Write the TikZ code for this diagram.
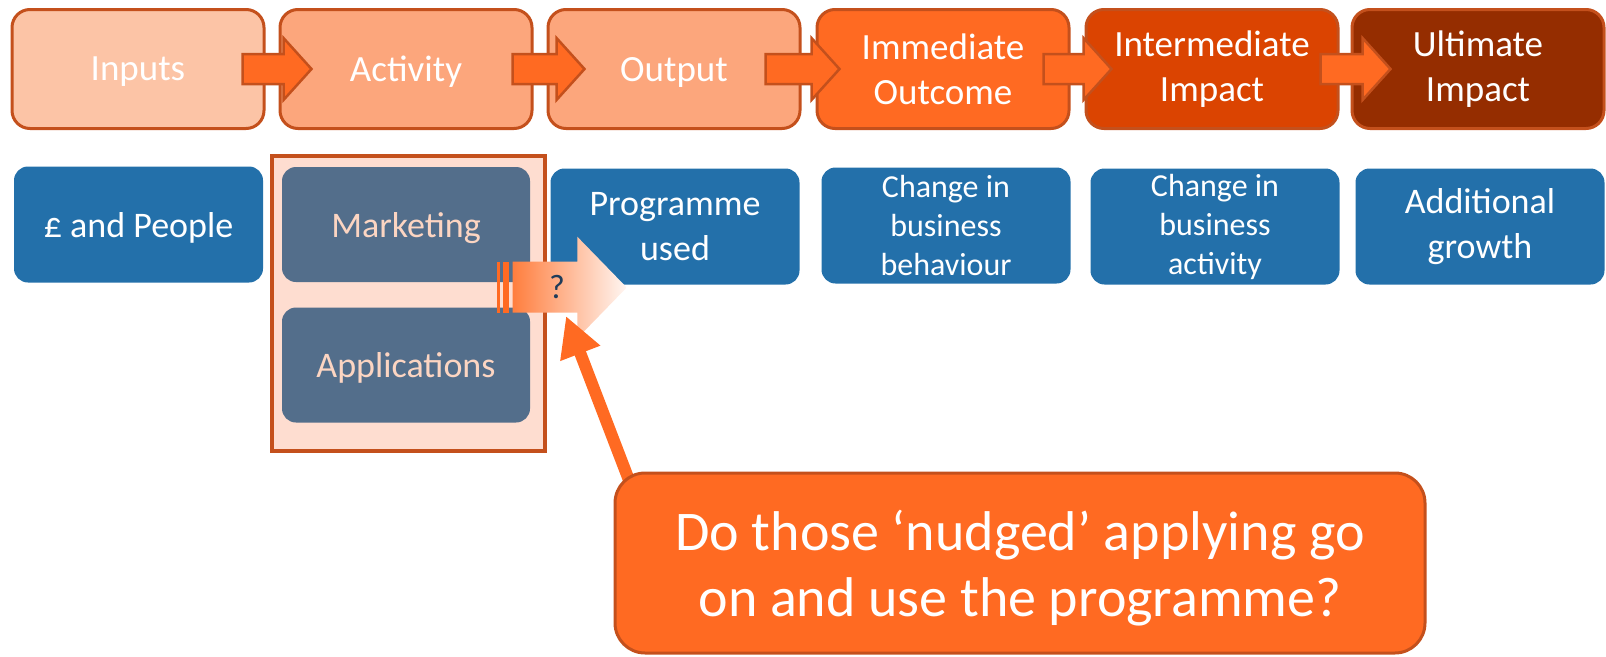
\documentclass[tikz,border=0pt]{standalone}
\usepackage{fontspec}
\setmainfont{Carlito}
\usetikzlibrary{calc,arrows.meta}

% the callout sits above the pointer that leaves it
\pgfdeclarelayer{front}
\pgfsetlayers{main,front}

% palette
\definecolor{edgeorange}{HTML}{C4501C}
\definecolor{peachA}{HTML}{FCC4A6}
\definecolor{peachB}{HTML}{FCA67C}
\definecolor{orangeA}{HTML}{FF6A22}
\definecolor{orangeB}{HTML}{DB4401}
\definecolor{brownA}{HTML}{952D00}
\definecolor{blueA}{HTML}{2370AA}
\definecolor{slateA}{HTML}{536E8B}
\definecolor{peachText}{HTML}{FCD5C2}
\definecolor{panelFill}{HTML}{FEDDD0}
\definecolor{navyText}{HTML}{1F3C5A}
\definecolor{gradL}{HTML}{FF7E3E}
\definecolor{gradM}{HTML}{FDB998}
\definecolor{gradR}{HTML}{FFF6F2}

% block arrow between two stages: #1 = source node, #2 = start offset from its east side, #3 = total length
\newcommand\stagearrow[3]{%
  \draw[flowarrow] ($(#1.east)+(#2,0)$) ++(0,-15) -- ++({#3-28},0) -- ++(0,-16)
    -- ++(28,31) -- ++(-28,31) -- ++(0,-16) -- ++({-(#3-28)},0) -- cycle;}

\begin{document}
\begin{tikzpicture}[x=1pt,y=-1pt,
  stage/.style={draw=edgeorange, line width=3pt, rounded corners=18pt,
    minimum width=252pt, minimum height=119pt, inner sep=0pt, align=center,
    text=white, font=\fontsize{37}{45}\selectfont},
  oneline/.style={text depth=0pt},
  measure/.style={fill=blueA, rounded corners=14pt, minimum width=249pt,
    minimum height=116pt, inner sep=0pt, align=center, text=white,
    font=\fontsize{36}{45}\selectfont},
  small/.style={font=\fontsize{32}{39}\selectfont},
  activitybox/.style={fill=slateA, rounded corners=14pt, minimum width=248pt,
    minimum height=115pt, inner sep=0pt, text=peachText, text depth=0pt,
    font=\fontsize{36}{45}\selectfont},
  flowarrow/.style={fill=orangeA, draw=edgeorange, line width=2.5pt, line join=miter},
  pointer/.style={draw=orangeA, line width=12pt,
    -{Triangle[length=40pt,width=40pt]}},
  calloutbox/.style={fill=orangeA, draw=edgeorange, line width=3pt, rounded corners=30pt,
    minimum width=810pt, minimum height=180pt, inner sep=0pt},
  callouttext/.style={align=center, inner sep=0pt, text=white,
    font=\fontsize{56}{66}\selectfont}
]
\useasboundingbox (0,0) rectangle (1606,656);

% top row: the results chain
\node[stage, oneline, fill=peachA] (inputs) at (138,69) {Inputs};
\node[stage, oneline, fill=peachB] (activity) at (406,69) {Activity};
\node[stage, oneline, fill=peachB] (output) at (674,69) {Output};
\node[stage, fill=orangeA] (immediate) at (943,69) {Immediate\\Outcome};
\node[stage, fill=orangeB] (intermediate) at (1212,69) {Intermediate\\Impact};
\node[stage, fill=brownA] (ultimate) at (1478,69) {Ultimate\\Impact};

\stagearrow{inputs}{-23}{69}
\stagearrow{activity}{-21}{72}
\stagearrow{output}{-36}{74}
\stagearrow{immediate}{-27}{68}
\stagearrow{intermediate}{-19}{70}

% second row: what each stage means here
\node[measure, oneline] (money) at (138.5,224.5) {£ and People};
\draw[edgeorange, fill=panelFill, line width=4pt] (272,156) rectangle (545,451);
\node[activitybox] (marketing) at (406,224.5) {Marketing};
\node[activitybox] (applications) at (406,365) {Applications};
\node[measure] (used) at (675,226.5) {Programme\\used};
\node[measure, small] (behaviour) at (946,225.5) {Change in\\business\\behaviour};
\node[measure, small] (bizactivity) at (1215,226.5) {Change in\\business\\activity};
\node[measure] (growth) at (1480,226.5) {Additional\\growth};

% the uncertain link from activity to use
\coordinate (qstart) at (512.7,287.5);
\fill[orangeA] ($(qstart)+(-16,-25.8)$) rectangle ($(qstart)+(-13,25.2)$);
\fill[orangeA] ($(qstart)+(-10,-25.8)$) rectangle ($(qstart)+(-3.4,25.2)$);
\shade[left color=gradL, middle color=gradM, right color=gradR]
  ($(qstart)+(0,-25.8)$) -- ++(64.6,0) -- ++(0,-25) -- ($(qstart)+(114,0)$)
  -- ($(qstart)+(64.6,50.8)$) -- ++(0,-25.6) -- ($(qstart)+(0,25.2)$) -- cycle;
\node[text=navyText, font=\fontsize{34}{40}\selectfont, inner sep=0pt] (q) at (557,287) {?};

% question callout and its pointer
\coordinate (ptip) at (566,316);
\begin{pgfonlayer}{front}
  \node[calloutbox] (ask) at (1020,563) {};
  \node[callouttext] (asktext) at ($(ask.center)+(0,5)$)
    {Do those ‘nudged’ applying go\\on and use the programme?};
\end{pgfonlayer}
\draw[pointer] ($(ask.north west)+(16,10)$) -- (ptip);
\end{tikzpicture}
\end{document}
